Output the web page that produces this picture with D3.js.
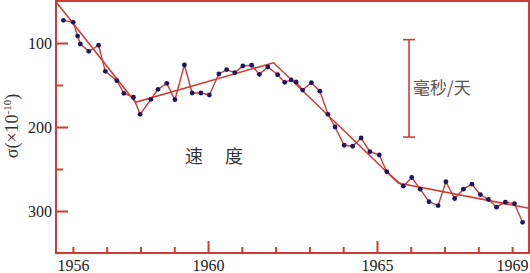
<!DOCTYPE html>
<html><head><meta charset="utf-8">
<script src="https://cdn.jsdelivr.net/npm/d3@7"></script>
<style>
html,body{margin:0;padding:0;background:#fff;}
svg{display:block;}
</style></head>
<body>
<svg id="chart" width="530" height="273"></svg>
<script>
// ---- data ----
const years = [1955.72, 1956.01, 1956.14, 1956.22, 1956.47, 1956.76, 1956.96, 1957.30, 1957.51, 1957.79,
  1957.99, 1958.31, 1958.52, 1958.78, 1959.02, 1959.30, 1959.53, 1959.79, 1960.04, 1960.32,
  1960.55, 1960.79, 1961.03, 1961.29, 1961.52, 1961.77, 1962.06, 1962.27, 1962.46, 1962.61,
  1962.80, 1963.06, 1963.31, 1963.55, 1963.76, 1964.03, 1964.28, 1964.53, 1964.79, 1965.07,
  1965.29, 1965.78, 1966.03, 1966.28, 1966.54, 1966.81, 1967.04, 1967.30, 1967.56, 1967.81,
  1968.06, 1968.30, 1968.54, 1968.80, 1969.07, 1969.31];
const sigma = [73.0, 75.4, 91.7, 101.2, 109.9, 102.7, 133.7, 144.9, 159.9, 164.6,
  184.9, 167.0, 155.1, 148.0, 167.5, 126.2, 159.5, 159.5, 161.9, 136.9,
  131.8, 135.4, 127.4, 126.5, 137.3, 128.6, 137.7, 146.8, 144.0, 146.4,
  156.0, 147.3, 157.4, 184.9, 200.0, 221.7, 222.9, 213.1, 229.4, 233.3,
  253.3, 270.5, 260.1, 274.0, 289.0, 293.5, 265.2, 285.1, 274.0, 268.1,
  280.5, 286.3, 295.5, 289.5, 291.2, 313.5];
const trendYears = [1955.5, 1957.85, 1961.94, 1965.63, 1969.5];
const trendSigma = [51.0, 170.6, 123.5, 266.7, 296.8];
const yTicks = [100, 150, 200, 250, 300];
const yLabelTicks = [100, 200, 300];
const xTicks = [1956, 1957, 1958, 1959, 1960, 1961, 1962, 1963, 1964, 1965, 1966, 1967, 1968, 1969];
const xLabelTicks = [1956, 1960, 1965, 1969];
const xLongTicks = [1960, 1965];
const scaleBarYear = 1965.95;
const scaleBarSigma = [96, 212];
const unitLabel = "毫秒/天";
const speedLabel = "速　度";

// ---- layout ----
const RED = "#cf3a35";
const DOT = "#1c1560";
const svg = d3.select("#chart");
const L = 56, R = 529, T = 1, B = 253;
const x = d3.scaleLinear().domain([1955.5, 1969.5]).range([L, R]);
const y = d3.scaleLinear().domain([50, 350]).range([T, B]);

// y axis
const yAxis = d3.axisLeft(y).tickValues(yTicks).tickSize(-12).tickPadding(4)
  .tickFormat(d => yLabelTicks.includes(d) ? d : "");
const gy = svg.append("g").attr("transform", `translate(${L},0)`).call(yAxis);
gy.select(".domain").remove();
gy.selectAll(".tick line").attr("stroke", RED).attr("stroke-width", 2)
  .attr("x2", d => yLabelTicks.includes(d) ? 12 : 7);
gy.selectAll(".tick text").attr("font-family", "'Liberation Serif', serif")
  .attr("font-size", 16).attr("fill", "#222");

// x axis
const xAxis = d3.axisBottom(x).tickValues(xTicks).tickSize(-6).tickPadding(6.5)
  .tickFormat(d => xLabelTicks.includes(d) ? d : "");
const gx = svg.append("g").attr("transform", `translate(0,${B})`).call(xAxis);
gx.select(".domain").remove();
gx.selectAll(".tick line").attr("stroke", RED).attr("stroke-width", 2)
  .attr("y2", d => xLongTicks.includes(d) ? -12 : -6);
gx.selectAll(".tick text").attr("font-family", "'Liberation Serif', serif")
  .attr("font-size", 16).attr("fill", "#222");

// frame
svg.append("rect").attr("x", L).attr("y", T).attr("width", R - L).attr("height", B - T)
  .attr("fill", "none").attr("stroke", RED).attr("stroke-width", 2);

// trend lines
const line = d3.line().x(d => x(d[0])).y(d => y(d[1]));
svg.append("path").datum(trendYears.map((v, i) => [v, trendSigma[i]]))
  .attr("d", line).attr("fill", "none").attr("stroke", RED).attr("stroke-width", 1.5);

// data polyline
const pts = years.map((v, i) => [v, sigma[i]]);
svg.append("path").datum(pts).attr("d", line).attr("fill", "none")
  .attr("stroke", RED).attr("stroke-width", 1.4);
svg.append("g").selectAll("circle").data(pts).join("circle")
  .attr("cx", d => x(d[0])).attr("cy", d => y(d[1])).attr("r", 2.4).attr("fill", DOT);

// scale bar
const sbx = x(scaleBarYear);
const sb = svg.append("g").attr("stroke", RED).attr("stroke-width", 1.6);
sb.append("line").attr("x1", sbx).attr("x2", sbx).attr("y1", y(scaleBarSigma[0])).attr("y2", y(scaleBarSigma[1]));
scaleBarSigma.forEach(v => sb.append("line").attr("x1", sbx - 6).attr("x2", sbx + 6).attr("y1", y(v)).attr("y2", y(v)));

svg.append("text").attr("x", sbx + 4).attr("y", 94)
  .attr("font-family", "'Noto Sans CJK SC', sans-serif").attr("font-size", 17)
  .attr("fill", "#555").text(unitLabel);

svg.append("text").attr("x", 185).attr("y", 163)
  .attr("font-family", "'Noto Sans CJK SC', sans-serif").attr("font-size", 18)
  .attr("letter-spacing", 2).attr("fill", "#333").text(speedLabel);

// y axis title
const yt = svg.append("text").attr("transform", "translate(18,126) rotate(-90)")
  .attr("text-anchor", "middle").attr("font-family", "'Liberation Serif', serif")
  .attr("font-size", 18).attr("fill", "#333");
yt.append("tspan").text("σ(×10");
yt.append("tspan").attr("dy", -7).attr("font-size", 11).text("-10");
yt.append("tspan").attr("dy", 7).text(")");
</script>
</body></html>
